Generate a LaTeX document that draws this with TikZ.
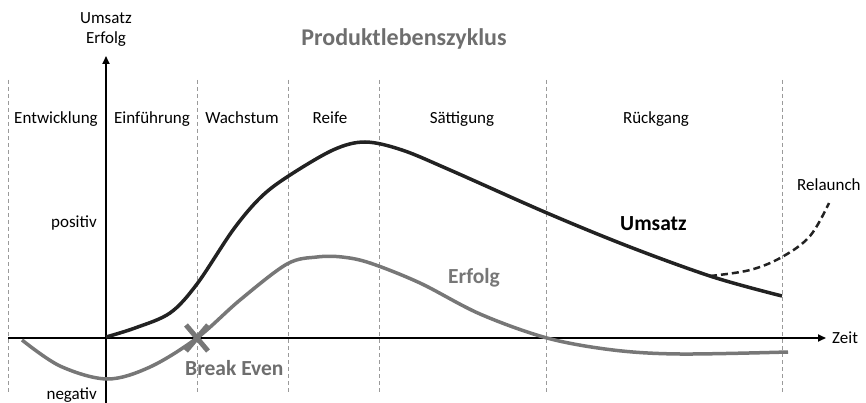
\documentclass[tikz,border=0pt]{standalone}
\usepackage{fontspec}
\setmainfont{Carlito}
\usetikzlibrary{arrows.meta}
\definecolor{erfgray}{HTML}{777777}
\definecolor{titgray}{HTML}{6E6E6E}
\definecolor{dashgray}{HTML}{9A9A9A}
\definecolor{umsblack}{HTML}{222222}
\tikzset{
  lbl/.style={font=\fontsize{17}{20}\selectfont, anchor=base, inner sep=0pt},
  phase/.style={lbl},
  biglbl/.style={font=\bfseries\fontsize{21.5}{24}\selectfont, anchor=base west, inner sep=0pt},
  sep/.style={dashgray, line width=1pt, dash pattern=on 4pt off 3pt},
  axis/.style={line width=1.8pt, black, -{Triangle[length=8pt,width=7pt]}},
  umsline/.style={umsblack, line width=3.5pt},
  erfline/.style={erfgray, line width=3.5pt},
}
\begin{document}
\begin{tikzpicture}[x=1pt,y=-1pt]
\useasboundingbox (0,0) rectangle (866,403);
% phase separators
\foreach \xx/\nm in {8/s0,197/s1,288/s2,379/s3,546/s4,782/s5}{
  \coordinate (\nm t) at (\xx,80);
  \coordinate (\nm b) at (\xx,392);
  \draw[sep] (\nm t) -- (\nm b);
}
% axes
\coordinate (yb) at (106,403);
\coordinate (yt) at (106,56);
\coordinate (xl) at (8,338);
\coordinate (xr) at (826,338);
\draw[axis] (yb) -- (yt);
\draw[axis] (xl) -- (xr);
% Erfolg curve
\draw[erfline] plot[smooth, tension=0.55] coordinates {(22,340) (60,366) (107,379) (150,367) (197,338) (240,300) (287,264) (317,257) (342,257) (370,263) (420,283) (480,314) (547,338) (613,350) (680,354) (788,352)};
% Umsatz curve
\draw[umsline] plot[smooth, tension=0.55] coordinates {(106,337) (135,328) (170,313) (197,284) (233,230) (260,198) (287,177) (333,150) (365,142) (402,150) (450,170) (547,213) (630,247) (713,277) (782,296)};
% Relaunch
\draw[umsblack, line width=2.5pt, dash pattern=on 7pt off 4pt] plot[smooth, tension=0.6] coordinates {(710,276) (750,270) (782,257) (810,236) (829,203)};
% Break even mark
\coordinate (be) at (197,338);
\draw[erfgray, line width=5pt] ([shift={(-11,-13)}]be) -- ([shift={(11,13)}]be);
\draw[erfgray, line width=5pt] ([shift={(-11,13)}]be) -- ([shift={(11,-13)}]be);
% labels
\node[lbl] (ax1) at (106,24) {Umsatz};
\node[lbl] (ax2) at (106,44) {Erfolg};
\node[font=\bfseries\fontsize{24}{28}\selectfont, text=titgray, anchor=base, inner sep=0pt] (title) at (404,46) {Produktlebenszyklus};
\node[phase] (p1) at (56,124) {Entwicklung};
\node[phase] (p2) at (152,124) {Einführung};
\node[phase] (p3) at (242,124) {Wachstum};
\node[phase] (p4) at (330,124) {Reife};
\node[phase] (p5) at (462,124) {Sättigung};
\node[phase] (p6) at (656,124) {Rückgang};
\node[lbl, anchor=base east] (pos) at (97,227) {positiv};
\node[lbl, anchor=base east] (neg) at (97,399) {negativ};
\node[lbl, anchor=base west] (zeit) at (832,343) {Zeit};
\node[lbl, anchor=base west] (rel) at (797,191) {Relaunch};
\node[biglbl, text=black] (ums) at (620,230) {Umsatz};
\node[biglbl, text=erfgray] (erf) at (448,283) {Erfolg};
\node[biglbl, text=titgray] (bev) at (185,375) {Break Even};
\end{tikzpicture}
\end{document}
